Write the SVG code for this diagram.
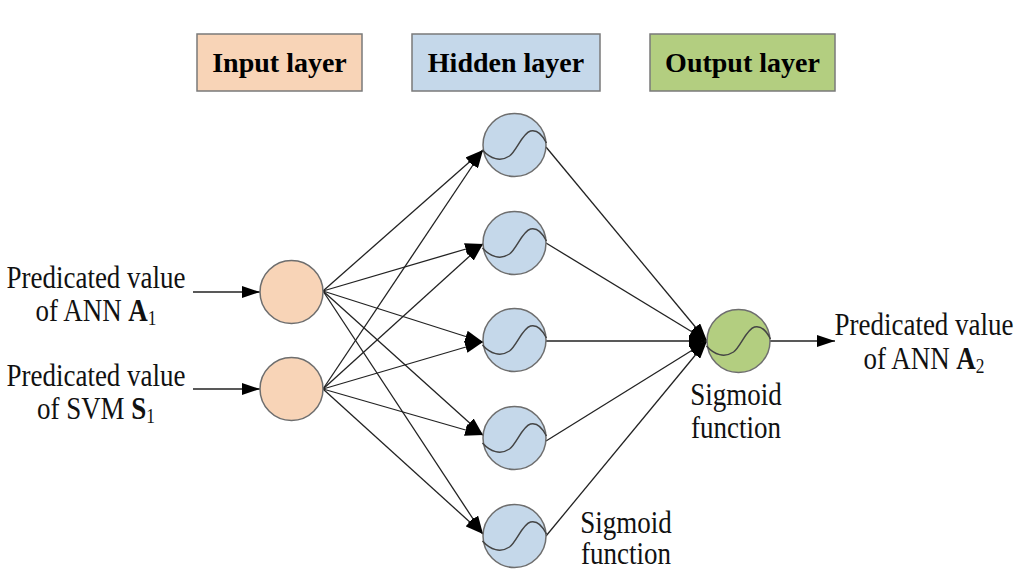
<svg xmlns="http://www.w3.org/2000/svg" xmlns:xlink="http://www.w3.org/1999/xlink" width="1024" height="576" viewBox="0 0 1024 576">
<style>
.hdr{stroke:#7a7a7a;stroke-width:1.5}
.htxt{font-family:"Liberation Serif","Times New Roman",serif;font-weight:bold;font-size:28px;fill:#000;text-anchor:middle}
.lbl{font-family:"Liberation Serif","Times New Roman",serif;font-size:31px;fill:#111;text-anchor:middle}
.node{stroke:#6e6e6e;stroke-width:1.5}
.in{fill:#F8D4B7}
.hid{fill:#C5D8EA}
.out{fill:#B3CE80}
.sig{fill:none;stroke:#444;stroke-width:1.5}
.con line{stroke:#222;stroke-width:1.3;marker-end:url(#arr)}
</style>
<defs>
<marker id="arr" markerUnits="userSpaceOnUse" markerWidth="18" markerHeight="12" refX="18" refY="6" orient="auto" viewBox="0 0 18 12">
<path d="M0,0 L18,6 L0,12 z" fill="#000"/>
</marker>
<path id="sg" class="sig" d="M -32,5 C -24,14 -14,17 -5,11 C 2,6 8,-12 16,-14 C 24,-16 29,-8 32,-2"/>
</defs>
<rect width="1024" height="576" fill="#fff"/>

<g id="hdr-input"><rect class="hdr" x="197" y="34" width="165" height="57" fill="#F8D4B7"/><text class="htxt" x="279.5" y="72">Input layer</text></g>
<g id="hdr-hidden"><rect class="hdr" x="412" y="34" width="188" height="57" fill="#C5D8EA"/><text class="htxt" x="506" y="72">Hidden layer</text></g>
<g id="hdr-output"><rect class="hdr" x="650" y="34" width="185" height="57" fill="#B3CE80"/><text class="htxt" x="742.5" y="72">Output layer</text></g>

<g id="connectors" class="con">
<line x1="193" y1="292" x2="260" y2="292"/>
<line x1="193" y1="389" x2="260" y2="389"/>
<line x1="323" y1="291" x2="483" y2="150"/>
<line x1="323" y1="291" x2="483" y2="244"/>
<line x1="323" y1="291" x2="483" y2="342"/>
<line x1="323" y1="291" x2="483" y2="435"/>
<line x1="323" y1="291" x2="483" y2="534"/>
<line x1="323" y1="389" x2="483" y2="150"/>
<line x1="323" y1="389" x2="483" y2="244"/>
<line x1="323" y1="389" x2="483" y2="342"/>
<line x1="323" y1="389" x2="483" y2="435"/>
<line x1="323" y1="389" x2="483" y2="534"/>
<line x1="546" y1="147" x2="707" y2="341"/>
<line x1="546" y1="243" x2="707" y2="341"/>
<line x1="546" y1="341" x2="707" y2="341"/>
<line x1="546" y1="441" x2="707" y2="341"/>
<line x1="546" y1="536" x2="707" y2="341"/>
<line x1="770" y1="341" x2="835" y2="341"/>
</g>

<g id="in1"><circle class="node in" cx="291.5" cy="292" r="31.5"/></g>
<g id="in2"><circle class="node in" cx="291.5" cy="389" r="31.5"/></g>

<g id="h1"><circle class="node hid" cx="514.5" cy="145" r="31.5"/><use xlink:href="#sg" x="514.5" y="145"/></g>
<g id="h2"><circle class="node hid" cx="514.5" cy="243" r="31.5"/><use xlink:href="#sg" x="514.5" y="243"/></g>
<g id="h3"><circle class="node hid" cx="514.5" cy="340" r="31.5"/><use xlink:href="#sg" x="514.5" y="340"/></g>
<g id="h4"><circle class="node hid" cx="514.5" cy="438" r="31.5"/><use xlink:href="#sg" x="514.5" y="438"/></g>
<g id="h5"><circle class="node hid" cx="514.5" cy="536" r="31.5"/><use xlink:href="#sg" x="514.5" y="536"/></g>

<g id="out"><circle class="node out" cx="738.5" cy="341" r="31.5"/><use xlink:href="#sg" x="738.5" y="341"/></g>

<g id="label-in1"><text class="lbl" transform="translate(96,288) scale(0.87,1)"><tspan x="0" y="0">Predicated value</tspan><tspan x="0" y="33">of ANN <tspan font-weight="bold">A</tspan><tspan font-size="20" dy="4">1</tspan></tspan></text></g>
<g id="label-in2"><text class="lbl" transform="translate(96,386) scale(0.87,1)"><tspan x="0" y="0">Predicated value</tspan><tspan x="0" y="33">of SVM <tspan font-weight="bold">S</tspan><tspan font-size="20" dy="4">1</tspan></tspan></text></g>
<g id="label-out"><text class="lbl" transform="translate(924,335) scale(0.87,1)"><tspan x="0" y="0">Predicated value</tspan><tspan x="0" y="34">of ANN <tspan font-weight="bold">A</tspan><tspan font-size="20" dy="4">2</tspan></tspan></text></g>
<g id="label-sig-out"><text class="lbl" transform="translate(736,405) scale(0.87,1)"><tspan x="0" y="0">Sigmoid</tspan><tspan x="0" y="33">function</tspan></text></g>
<g id="label-sig-hid"><text class="lbl" transform="translate(626,533) scale(0.87,1)"><tspan x="0" y="0">Sigmoid</tspan><tspan x="0" y="31">function</tspan></text></g>
</svg>
